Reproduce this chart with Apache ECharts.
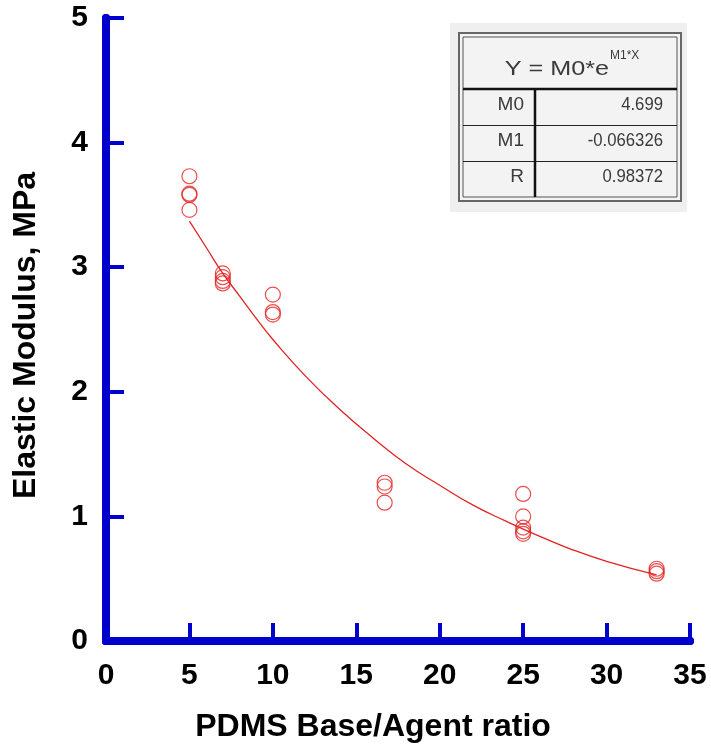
<!DOCTYPE html>
<html>
<head>
<meta charset="utf-8">
<script src="https://cdn.jsdelivr.net/npm/echarts@6/dist/echarts.min.js"></script>
<style>html,body{margin:0;padding:0;background:#fff;}#c{width:711px;height:747px;}</style>
</head>
<body>
<div id="c"></div>
<script>
const ratio5 = [5, 5, 5, 5];
const modulus5 = [3.73, 3.59, 3.58, 3.46];
const ratio7 = [7, 7, 7, 7];
const modulus7 = [2.95, 2.92, 2.89, 2.87];
const ratio10 = [10, 10, 10];
const modulus10 = [2.78, 2.64, 2.62];
const ratio167 = [16.7, 16.7, 16.7];
const modulus167 = [1.27, 1.24, 1.11];
const ratio25 = [25, 25, 25, 25, 25];
const modulus25 = [1.18, 1.00, 0.91, 0.88, 0.86];
const ratio33 = [33, 33, 33];
const modulus33 = [0.58, 0.56, 0.54];

// Fitted curve
const fitX = [5, 6, 7, 8, 9, 10, 12, 14, 16, 18, 20, 22, 24, 26, 28, 30, 33];
const fitY = [3.37, 3.16, 2.95, 2.77, 2.59, 2.42, 2.12, 1.86, 1.63, 1.42, 1.25, 1.09, 0.96, 0.84, 0.73, 0.64, 0.53];

// Table text
const fitParams = ['M0', 'M1', 'R'];
const fitValues = ['4.699', '-0.066326', '0.98372'];

const xTicks = [0, 35, 5];   // min, max, interval
const yTicks = [0, 5, 1];

const pts = [];
[[ratio5, modulus5], [ratio7, modulus7], [ratio10, modulus10], [ratio167, modulus167], [ratio25, modulus25], [ratio33, modulus33]]
  .forEach(([xs, ys]) => xs.forEach((x, i) => pts.push([x, ys[i]])));
const fit = fitX.map((x, i) => [x, fitY[i]]);

const BLUE = '#0000cc';
const RED = '#e32222';
const FONT = 'Arial, "Liberation Sans", sans-serif';
const TXT = '#3a3a3a';

const chart = echarts.init(document.getElementById('c'), null, {renderer: 'canvas'});

const tableGraphic = [];
tableGraphic.push({type: 'rect', shape: {x: 450, y: 23, width: 237, height: 189}, style: {fill: '#efefef'}, z: 100});
tableGraphic.push({type: 'rect', shape: {x: 459, y: 33, width: 222, height: 168}, style: {fill: '#f3f3f3', stroke: '#666', lineWidth: 2}, z: 101});
tableGraphic.push({type: 'rect', shape: {x: 463, y: 37, width: 214, height: 160}, style: {fill: 'none', stroke: '#555', lineWidth: 1}, z: 102});
tableGraphic.push({type: 'line', shape: {x1: 463, y1: 89, x2: 677, y2: 89}, style: {stroke: '#111', lineWidth: 2.5}, z: 102});
tableGraphic.push({type: 'line', shape: {x1: 463, y1: 125.5, x2: 677, y2: 125.5}, style: {stroke: '#222', lineWidth: 1}, z: 102});
tableGraphic.push({type: 'line', shape: {x1: 463, y1: 161.5, x2: 677, y2: 161.5}, style: {stroke: '#222', lineWidth: 1}, z: 102});
tableGraphic.push({type: 'line', shape: {x1: 535, y1: 89, x2: 535, y2: 197}, style: {stroke: '#111', lineWidth: 2.5}, z: 102});
// header
tableGraphic.push({type: 'text', x: 609, y: 69, scaleX: 1.2, style: {text: 'Y = M0*e', fill: TXT, font: '21px ' + FONT, align: 'right', verticalAlign: 'middle'}, z: 103});
tableGraphic.push({type: 'text', x: 610, y: 56, style: {text: 'M1*X', fill: TXT, font: '12px ' + FONT, align: 'left', verticalAlign: 'middle'}, z: 103});
const rowY = [105, 141, 177];
fitParams.forEach((p, i) => {
  tableGraphic.push({type: 'text', x: 524, y: rowY[i], style: {text: p, fill: TXT, font: '19px ' + FONT, align: 'right', verticalAlign: 'middle'}, z: 103});
  tableGraphic.push({type: 'text', x: 663, y: rowY[i], scaleX: 0.88, style: {text: fitValues[i], fill: TXT, font: '19px ' + FONT, align: 'right', verticalAlign: 'middle'}, z: 103});
});

chart.setOption({
  backgroundColor: '#ffffff',
  animation: false,
  grid: {left: 106, right: 21, top: 18, bottom: 106, containLabel: false, outerBoundsMode: 'none'},
  xAxis: [{
    type: 'value', min: xTicks[0], max: xTicks[1], interval: xTicks[2],
    name: 'PDMS Base/Agent ratio', nameLocation: 'middle', nameGap: 70,
    nameTextStyle: {fontFamily: FONT, fontWeight: 'bold', fontSize: 32, color: '#000', padding: [0, 50, 0, 0]},
    axisLine: {lineStyle: {color: BLUE, width: 8}},
    axisTick: {inside: true, length: 18, lineStyle: {color: BLUE, width: 4}},
    axisLabel: {fontFamily: FONT, fontWeight: 'bold', fontSize: 30, color: '#000', margin: 20},
    splitLine: {show: false}
  }, {
    type: 'value', position: 'top', min: xTicks[0], max: xTicks[1], interval: xTicks[2],
    axisLine: {show: true, lineStyle: {color: BLUE, width: 8}},
    axisTick: {show: false}, axisLabel: {show: false}, splitLine: {show: false}
  }],
  yAxis: [{
    type: 'value', min: yTicks[0], max: yTicks[1], interval: yTicks[2],
    name: 'Elastic Modulus, MPa', nameLocation: 'middle', nameGap: 64,
    nameTextStyle: {fontFamily: FONT, fontWeight: 'bold', fontSize: 32, color: '#000', padding: [0, 12, 0, 0]},
    axisLine: {lineStyle: {color: BLUE, width: 8}},
    axisTick: {inside: true, length: 18, lineStyle: {color: BLUE, width: 4}},
    axisLabel: {fontFamily: FONT, fontWeight: 'bold', fontSize: 30, color: '#000', margin: 18},
    splitLine: {show: false}
  }, {
    type: 'value', position: 'right', min: yTicks[0], max: yTicks[1], interval: yTicks[2],
    axisLine: {show: true, lineStyle: {color: BLUE, width: 8}},
    axisTick: {show: false}, axisLabel: {show: false}, splitLine: {show: false}
  }],
  series: [{
    type: 'line', data: fit, smooth: true, showSymbol: false,
    lineStyle: {color: RED, width: 1.3}, z: 3
  }, {
    type: 'scatter', data: pts, symbol: 'circle', symbolSize: 15,
    itemStyle: {color: 'rgba(0,0,0,0)', borderColor: RED, borderWidth: 1.2}, z: 4
  }],
  graphic: tableGraphic
});
</script>
</body>
</html>
